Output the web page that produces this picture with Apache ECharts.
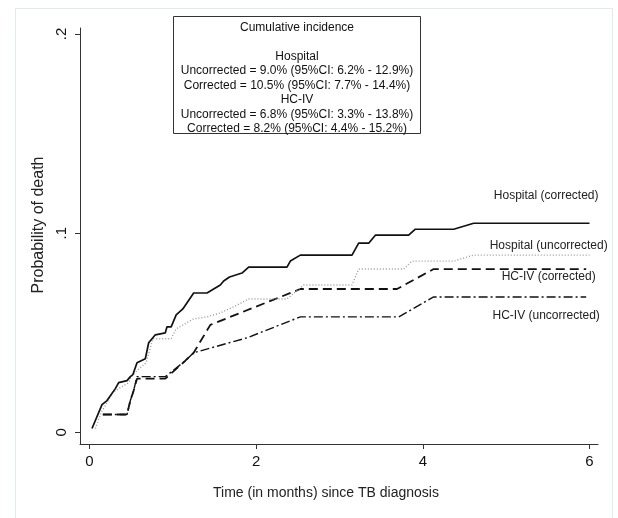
<!DOCTYPE html>
<html>
<head>
<meta charset="utf-8">
<script src="https://cdn.jsdelivr.net/npm/echarts@6/dist/echarts.min.js"></script>
<style>html,body{margin:0;padding:0;background:#fff}#c{width:618px;height:518px}</style>
</head>
<body>
<div id="c"></div>
<script>
// ---- data (time in months, probability of death) ----
const hospitalCorrected = [[0.03,0.002],[0.15,0.014],[0.21,0.016],[0.31,0.022],[0.35,0.025],[0.45,0.026],[0.49,0.028],[0.52,0.029],[0.57,0.035],[0.67,0.037],[0.71,0.045],[0.79,0.049],[0.91,0.050],[0.93,0.053],[0.98,0.053],[1.04,0.059],[1.12,0.062],[1.25,0.070],[1.41,0.070],[1.57,0.074],[1.61,0.076],[1.68,0.078],[1.83,0.080],[1.91,0.083],[2.37,0.083],[2.41,0.086],[2.53,0.089],[3.15,0.089],[3.23,0.095],[3.35,0.095],[3.43,0.099],[3.83,0.099],[3.91,0.102],[4.37,0.102],[4.61,0.105],[6.0,0.105]];
const hospitalUncorrected = [[0.07,0.002],[0.14,0.010],[0.28,0.020],[0.35,0.022],[0.47,0.025],[0.50,0.028],[0.57,0.031],[0.68,0.035],[0.76,0.047],[0.98,0.047],[1.04,0.052],[1.25,0.057],[1.41,0.058],[1.57,0.060],[1.73,0.063],[1.91,0.067],[2.37,0.067],[2.57,0.074],[3.15,0.074],[3.23,0.082],[3.77,0.082],[3.87,0.086],[4.37,0.086],[4.61,0.089],[6.0,0.089]];
const hcivCorrected = [[0.16,0.009],[0.45,0.009],[0.49,0.016],[0.53,0.021],[0.57,0.027],[0.91,0.027],[1.15,0.036],[1.25,0.040],[1.45,0.054],[2.53,0.072],[3.69,0.072],[4.13,0.082],[5.96,0.082]];
const hcivUncorrected = [[0.16,0.009],[0.45,0.009],[0.49,0.016],[0.53,0.021],[0.57,0.028],[0.91,0.028],[1.15,0.036],[1.25,0.040],[1.89,0.0475],[2.53,0.058],[3.71,0.058],[4.13,0.068],[5.96,0.068]];

const seriesNames = ['Hospital (corrected)','Hospital (uncorrected)','HC-IV (corrected)','HC-IV (uncorrected)'];
const labelAnchors = [[5.48,0.1187],[5.51,0.0936],[5.51,0.078],[5.48,0.0585]];

const xTicks = [0,2,4,6];
const yTicks = [0,0.1,0.2];
const yTickLabels = ['0','.1','.2'];

const boxLines = [
  'Cumulative incidence',
  '',
  'Hospital',
  'Uncorrected = 9.0% (95%CI: 6.2% - 12.9%)',
  'Corrected = 10.5% (95%CI: 7.7% - 14.4%)',
  'HC-IV',
  'Uncorrected = 6.8% (95%CI: 3.3% - 13.8%)',
  'Corrected = 8.2% (95%CI: 4.4% - 15.2%)'
];

const FONT = '"Liberation Sans", Arial, sans-serif';
const chart = echarts.init(document.getElementById('c'), null, {renderer:'canvas'});

function labelMark(i){
  return {
    symbol:'circle', symbolSize:0, silent:true,
    data:[{coord:labelAnchors[i], value:seriesNames[i]}],
    label:{show:true, position:'inside', formatter:seriesNames[i], fontSize:12, color:'#222', fontFamily:FONT}
  };
}

const styles = [
  {color:'#111', width:1.7, type:'solid'},
  {color:'#9a9a9a', width:1.4, type:[1,2]},
  {color:'#111', width:1.8, type:[9,5]},
  {color:'#111', width:1.4, type:[9,3,2,3]}
];
const datasets = [hospitalCorrected, hospitalUncorrected, hcivCorrected, hcivUncorrected];

const option = {
  animation:false,
  backgroundColor:'#ffffff',
  grid:{left:80, right:20, top:28, bottom:74},
  xAxis:{
    type:'value', min:-0.114, max:6.102,
    axisLine:{show:true, onZero:false, lineStyle:{color:'#333', width:1}},
    axisTick:{show:true, length:5, inside:false, customValues:xTicks, lineStyle:{color:'#333', width:1}},
    axisLabel:{customValues:xTicks, fontSize:15, color:'#111', margin:10, fontFamily:FONT},
    splitLine:{show:false},
    name:'Time (in months) since TB diagnosis', nameLocation:'middle', nameGap:42,
    nameTextStyle:{fontSize:14, color:'#222', fontFamily:FONT, padding:[0,26,0,0]}
  },
  yAxis:{
    type:'value', min:-0.0058, max:0.203,
    axisLine:{show:true, onZero:false, lineStyle:{color:'#333', width:1}},
    axisTick:{show:true, length:5, inside:false, customValues:yTicks, lineStyle:{color:'#333', width:1}},
    axisLabel:{customValues:yTicks, rotate:90, fontSize:15, color:'#111', margin:11, fontFamily:FONT,
      formatter:function(v){ const i = Math.round(v*10); return yTickLabels[i]; }},
    splitLine:{show:false},
    name:'Probability of death', nameLocation:'middle', nameGap:29, nameRotate:90,
    nameTextStyle:{fontSize:16, color:'#222', fontFamily:FONT, padding:[0,0,0,22]}
  },
  graphic:[
    {type:'rect', shape:{x:15.5, y:8.5, width:597, height:530}, style:{fill:'none', stroke:'#e3eaea', lineWidth:1}, silent:true},
    {type:'rect', shape:{x:173.5, y:16.5, width:247, height:117}, style:{fill:'#fff', stroke:'#333', lineWidth:1}, z:10},
    {type:'text', x:297, y:20, z:11, style:{text:boxLines.join('\n'), textAlign:'center', textVerticalAlign:'top', font:'12px ' + FONT, fill:'#111', lineHeight:14.5}}
  ],
  series: datasets.map(function(d,i){
    return {
      type:'line', name:seriesNames[i], data:d, showSymbol:false, symbol:'none',
      lineStyle:styles[i], z:5-i,
      markPoint:labelMark(i)
    };
  })
};
chart.setOption(option);
</script>
</body>
</html>
